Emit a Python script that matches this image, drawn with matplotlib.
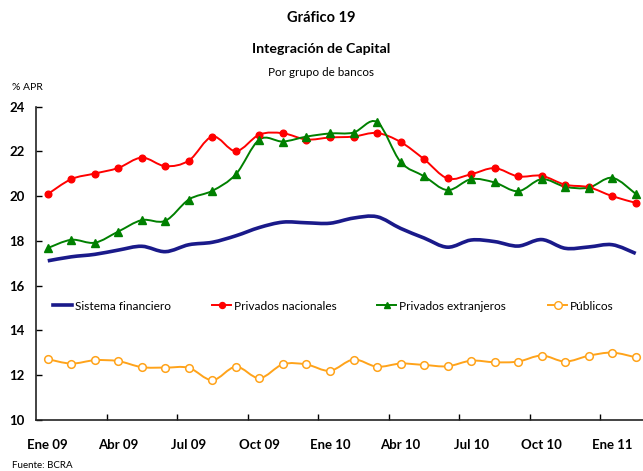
import numpy as np
import matplotlib.pyplot as plt
from matplotlib.path import Path
from matplotlib.patches import PathPatch

plt.rcParams["font.family"] = ["Lato", "DejaVu Sans"]

# monthly data, Ene 09 .. Feb 11
sistema = [17.11, 17.29, 17.40, 17.59, 17.76, 17.52, 17.83, 17.94, 18.23, 18.60, 18.84, 18.81,
           18.79, 19.02, 19.08, 18.56, 18.13, 17.72, 18.04, 17.97, 17.77, 18.06, 17.67, 17.73,
           17.83, 17.44]
nacionales = [20.09, 20.76, 21.01, 21.26, 21.72, 21.34, 21.59, 22.66, 22.01, 22.75, 22.81, 22.53,
              22.62, 22.66, 22.82, 22.42, 21.65, 20.79, 20.98, 21.25, 20.88, 20.91, 20.51, 20.40,
              20.00, 19.70]
extranjeros = [17.68, 18.05, 17.92, 18.42, 18.93, 18.90, 19.85, 20.24, 20.98, 22.53, 22.44, 22.66,
               22.80, 22.84, 23.31, 21.53, 20.89, 20.27, 20.76, 20.61, 20.22, 20.76, 20.42, 20.38,
               20.82, 20.10]
publicos = [12.72, 12.52, 12.67, 12.63, 12.36, 12.34, 12.33, 11.78, 12.38, 11.87, 12.49, 12.48,
            12.20, 12.70, 12.38, 12.52, 12.46, 12.40, 12.65, 12.58, 12.61, 12.88, 12.61, 12.87,
            13.01, 12.80]
tick_labels = ['Ene 09', 'Abr 09', 'Jul 09', 'Oct 09', 'Ene 10', 'Abr 10', 'Jul 10', 'Oct 10', 'Ene 11']

x = np.arange(len(sistema))


def smooth_path(xs, ys):
    # bezier curve through the points (like a "smoothed line" in Excel)
    pts = np.column_stack([xs, ys]).astype(float)
    verts = [pts[0]]
    codes = [Path.MOVETO]
    n = len(pts)
    for i in range(n - 1):
        p0 = pts[i - 1] if i > 0 else pts[i]
        p1 = pts[i]
        p2 = pts[i + 1]
        p3 = pts[i + 2] if i + 2 < n else pts[i + 1]
        verts += [p1 + (p2 - p0) / 6, p2 - (p3 - p1) / 6, p2]
        codes += [Path.CURVE4] * 3
    return Path(verts, codes)


fig = plt.figure(figsize=(6.43, 4.71), dpi=100)
ax = fig.add_axes([36 / 643, 51 / 471, 611.5 / 643, 313.4 / 471])

series = [
    (sistema, 'Sistema financiero', '#1a1a8a', None, 2.6, 53),
    (nacionales, 'Privados nacionales', '#ff0000', 'o', 1.4, 212),
    (extranjeros, 'Privados extranjeros', '#008000', '^', 1.4, 377),
    (publicos, 'Públicos', '#ffa31a', 'o', 1.4, 548),
]
for vals, name, col, mk, lw, lx in series:
    ax.add_patch(PathPatch(smooth_path(x, vals), facecolor='none', edgecolor=col, lw=lw, zorder=2))
    if name == 'Públicos':
        ax.plot(x, vals, ls='none', marker='o', ms=5.5, mfc='white', mec=col, mew=1.1, zorder=3)
        h, = ax.plot([], [], color=col, lw=lw, marker='o', ms=5.5, mfc='white', mec=col)
    elif mk == 'o':
        ax.plot(x, vals, ls='none', marker='o', ms=4.8, color=col, zorder=3)
        h, = ax.plot([], [], color=col, lw=lw, marker='o', ms=4.3)
    elif mk == '^':
        ax.plot(x, vals, ls='none', marker='^', ms=5.5, color=col, zorder=3)
        h, = ax.plot([], [], color=col, lw=lw, marker='^', ms=5)
    else:
        h, = ax.plot([], [], color=col, lw=lw)
    leg = fig.legend([h], [name], loc='center left', bbox_to_anchor=(lx / 643, 1 - 306 / 471),
                     frameon=False, fontsize=8.6, handlelength=1.6, handletextpad=0.25,
                     borderpad=0, borderaxespad=0)

ax.set_xlim(-0.5, 25.5)
ax.set_ylim(10, 24)
ax.set_yticks(range(10, 25, 2))
ax.set_xticks(np.arange(2.5, 25, 3))
ax.set_xticklabels([])
ax.set_xticks(np.arange(0, 25, 3), minor=True)
ax.set_xticklabels(tick_labels, minor=True)
ax.tick_params(axis='x', which='major', direction='in', length=4, width=1)
ax.tick_params(axis='x', which='minor', length=0, pad=14, labelsize=9.5)
ax.tick_params(axis='y', direction='in', length=4, width=1, pad=8, labelsize=9.5)
for lab in ax.get_xticklabels(minor=True) + ax.get_yticklabels():
    lab.set_fontweight('bold')
for s in ['top', 'right']:
    ax.spines[s].set_visible(False)
for s in ['left', 'bottom']:
    ax.spines[s].set_linewidth(1.2)
    ax.spines[s].set_color('#222222')

fig.text(0.5, 1 - 18 / 471, 'Gráfico 19', ha='center', va='center', fontsize=10.5, fontweight='bold')
fig.text(0.5, 1 - 49 / 471, 'Integración de Capital', ha='center', va='center', fontsize=10.2, fontweight='bold')
fig.text(0.5, 1 - 73 / 471, 'Por grupo de bancos', ha='center', va='center', fontsize=8.4)
fig.text(12 / 643, 1 - 87 / 471, '% APR', ha='left', va='center', fontsize=7.5)
fig.text(12 / 643, 1 - 465 / 471, 'Fuente: BCRA', ha='left', va='center', fontsize=7)

plt.savefig('out.png', dpi=100)
plt.close()
